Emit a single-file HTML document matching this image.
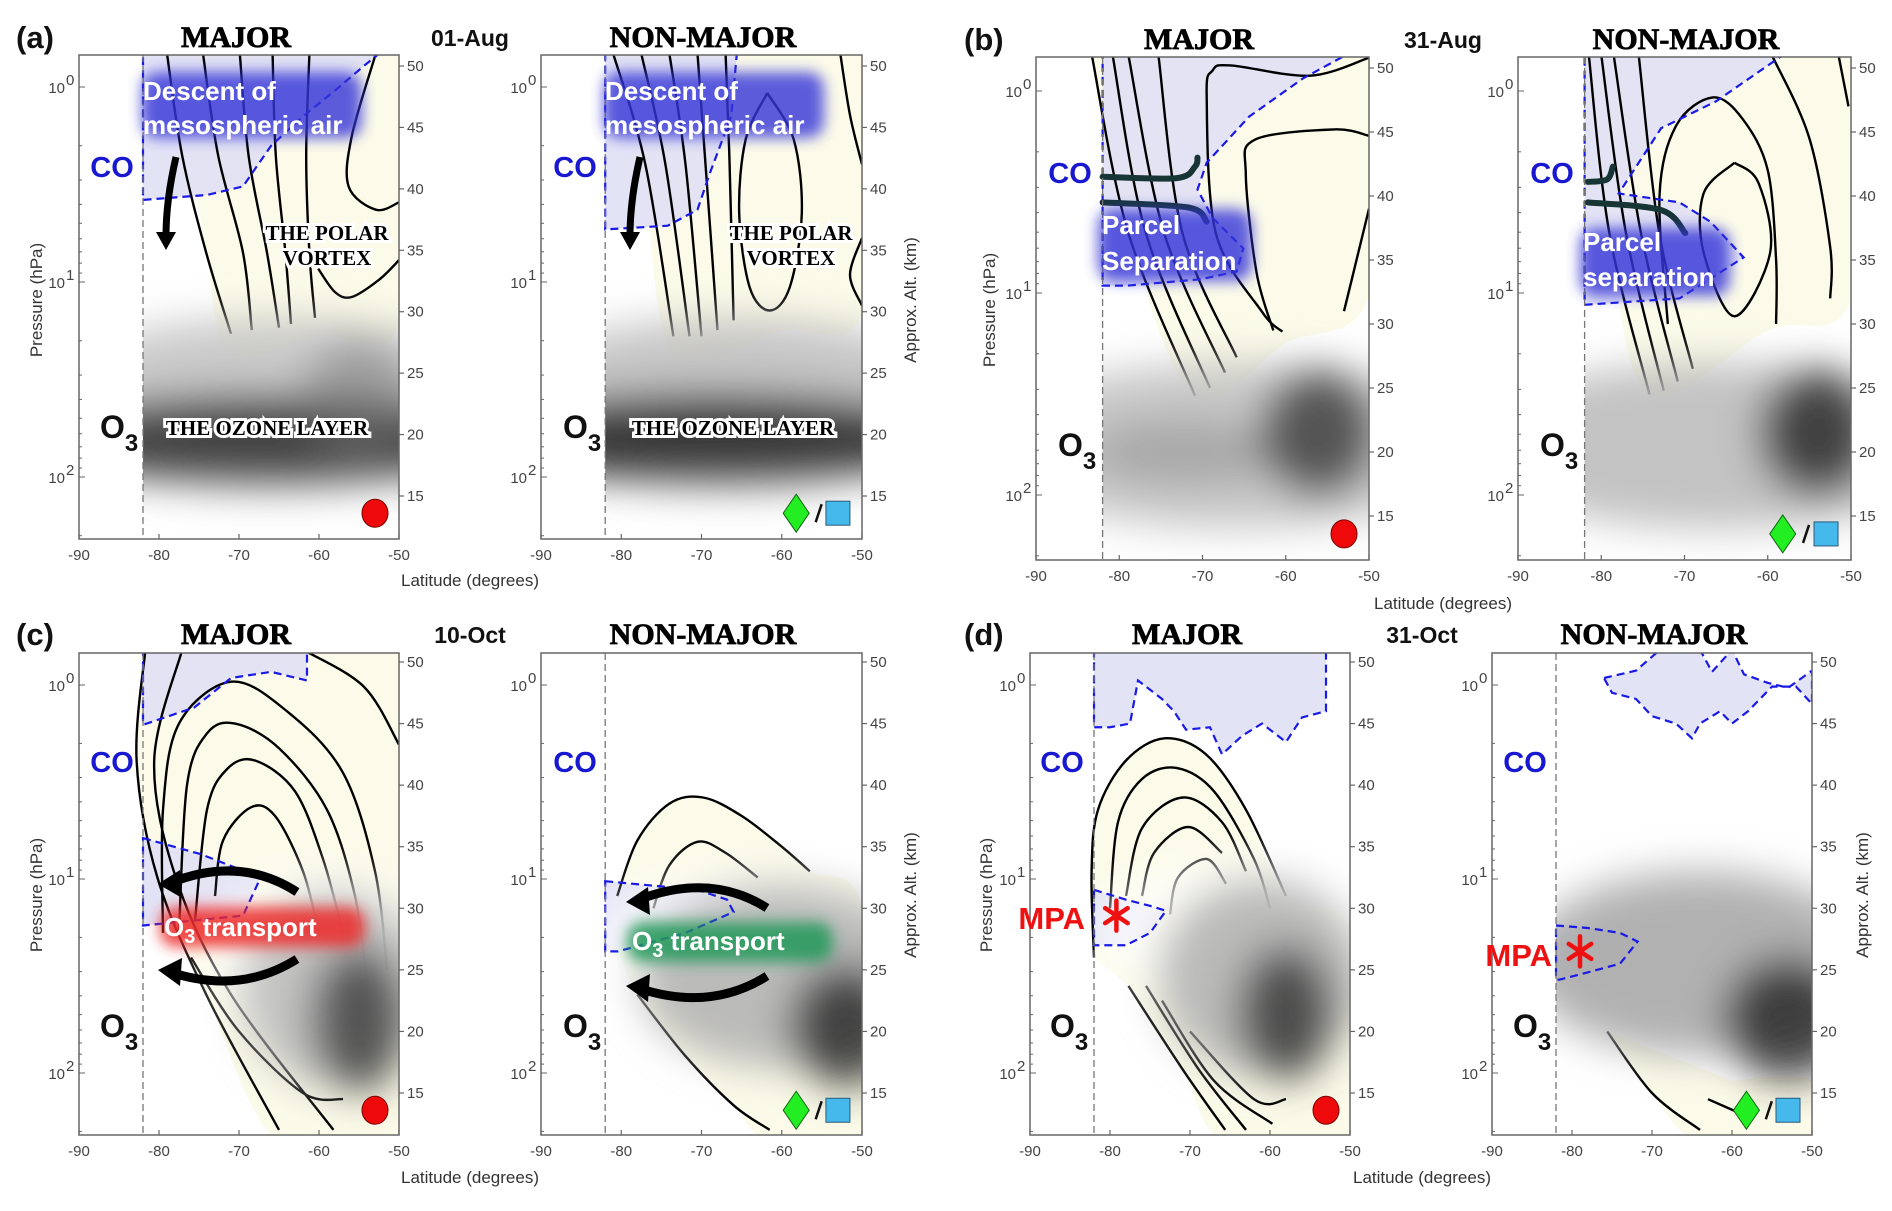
<!DOCTYPE html>
<html><head><meta charset="utf-8"><style>
html,body{margin:0;padding:0;background:#fff;}
svg{display:block;}
text{font-family:"Liberation Sans",sans-serif;}
.tick{font-size:15px;fill:#444;}
.axl{font-size:17px;fill:#333;}
.ttl{font-family:"Liberation Serif",serif;font-weight:bold;font-size:30px;fill:#000;stroke:#000;stroke-width:0.8px;}
.date{font-size:23px;font-weight:bold;fill:#111;}
.let{font-size:31px;font-weight:bold;fill:#111;}
.co{font-size:29px;font-weight:bold;fill:#1818d0;}
.o3{font-size:32px;font-weight:bold;fill:#111;}
.wt{font-size:26px;font-weight:bold;fill:#fff;}
.serifb{font-family:"Liberation Serif",serif;font-weight:bold;font-size:21px;fill:#000;stroke:#fff;stroke-width:6px;paint-order:stroke;}
.mpa{font-size:31px;font-weight:bold;fill:#ee1111;}
</style></head><body>
<svg id="fig" width="1892" height="1211" viewBox="0 0 1892 1211" xmlns="http://www.w3.org/2000/svg">
<defs>
<filter id="blurO" x="-50%" y="-50%" width="200%" height="200%"><feGaussianBlur stdDeviation="20"/></filter>
<filter id="glow" x="-30%" y="-50%" width="160%" height="200%"><feGaussianBlur stdDeviation="7"/></filter>
</defs>
<g id="plots"></g>
<g id="labels">
<text class="let" x="16" y="48">(a)</text>
<text class="let" x="964" y="50">(b)</text>
<text class="let" x="16" y="645">(c)</text>
<text class="let" x="964" y="645">(d)</text>
<text class="ttl" x="236" y="47" text-anchor="middle">MAJOR</text>
<text class="ttl" x="703" y="47" text-anchor="middle">NON-MAJOR</text>
<text class="ttl" x="1199" y="49" text-anchor="middle">MAJOR</text>
<text class="ttl" x="1686" y="49" text-anchor="middle">NON-MAJOR</text>
<text class="ttl" x="236" y="644" text-anchor="middle">MAJOR</text>
<text class="ttl" x="703" y="644" text-anchor="middle">NON-MAJOR</text>
<text class="ttl" x="1187" y="644" text-anchor="middle">MAJOR</text>
<text class="ttl" x="1654" y="644" text-anchor="middle">NON-MAJOR</text>
<text class="date" x="470" y="46" text-anchor="middle">01-Aug</text>
<text class="date" x="1443" y="48" text-anchor="middle">31-Aug</text>
<text class="date" x="470" y="643" text-anchor="middle">10-Oct</text>
<text class="date" x="1422" y="643" text-anchor="middle">31-Oct</text>
<text class="axl" x="470" y="586" text-anchor="middle">Latitude (degrees)</text>
<text class="axl" x="1443" y="609" text-anchor="middle">Latitude (degrees)</text>
<text class="axl" x="470" y="1183" text-anchor="middle">Latitude (degrees)</text>
<text class="axl" x="1422" y="1183" text-anchor="middle">Latitude (degrees)</text>
<text class="axl" transform="translate(42,300) rotate(-90)" text-anchor="middle">Pressure (hPa)</text>
<text class="axl" transform="translate(995,310) rotate(-90)" text-anchor="middle">Pressure (hPa)</text>
<text class="axl" transform="translate(42,895) rotate(-90)" text-anchor="middle">Pressure (hPa)</text>
<text class="axl" transform="translate(992,895) rotate(-90)" text-anchor="middle">Pressure (hPa)</text>
<text class="axl" transform="translate(916,300) rotate(-90)" text-anchor="middle">Approx. Alt. (km)</text>
<text class="axl" transform="translate(916,895) rotate(-90)" text-anchor="middle">Approx. Alt. (km)</text>
<text class="axl" transform="translate(1868,895) rotate(-90)" text-anchor="middle">Approx. Alt. (km)</text>

<text class="co" x="112" y="177" text-anchor="middle">CO</text>
<text class="co" x="575" y="177" text-anchor="middle">CO</text>
<text class="co" x="1070" y="183" text-anchor="middle">CO</text>
<text class="co" x="1552" y="183" text-anchor="middle">CO</text>
<text class="co" x="112" y="772" text-anchor="middle">CO</text>
<text class="co" x="575" y="772" text-anchor="middle">CO</text>
<text class="co" x="1062" y="772" text-anchor="middle">CO</text>
<text class="co" x="1525" y="772" text-anchor="middle">CO</text>
<text class="o3" x="100" y="438">O<tspan font-size="24" dy="13">3</tspan></text>
<text class="o3" x="563" y="438">O<tspan font-size="24" dy="13">3</tspan></text>
<text class="o3" x="1058" y="456">O<tspan font-size="24" dy="13">3</tspan></text>
<text class="o3" x="1540" y="456">O<tspan font-size="24" dy="13">3</tspan></text>
<text class="o3" x="100" y="1037">O<tspan font-size="24" dy="13">3</tspan></text>
<text class="o3" x="563" y="1037">O<tspan font-size="24" dy="13">3</tspan></text>
<text class="o3" x="1050" y="1037">O<tspan font-size="24" dy="13">3</tspan></text>
<text class="o3" x="1513" y="1037">O<tspan font-size="24" dy="13">3</tspan></text>

<rect x="142" y="72" width="220" height="66" rx="16" fill="#3535d8" opacity="0.8" filter="url(#glow)"/>
<text class="wt" x="143" y="100">Descent of</text>
<text class="wt" x="143" y="134">mesospheric air</text>
<rect x="604" y="72" width="220" height="66" rx="16" fill="#3535d8" opacity="0.8" filter="url(#glow)"/>
<text class="wt" x="605" y="100">Descent of</text>
<text class="wt" x="605" y="134">mesospheric air</text>
<text class="serifb" x="327" y="240" text-anchor="middle">THE POLAR</text>
<text class="serifb" x="327" y="265" text-anchor="middle">VORTEX</text>
<text class="serifb" x="791" y="240" text-anchor="middle">THE POLAR</text>
<text class="serifb" x="791" y="265" text-anchor="middle">VORTEX</text>
<text class="serifb" x="267" y="435" text-anchor="middle">THE OZONE LAYER</text>
<text class="serifb" x="733" y="435" text-anchor="middle">THE OZONE LAYER</text>
<path d="M176,157 Q166,200 166,236" stroke="#000" stroke-width="7" fill="none"/>
<polygon points="156,232 176,232 166,250" fill="#000"/>
<path d="M640,157 Q630,200 630,236" stroke="#000" stroke-width="7" fill="none"/>
<polygon points="620,232 640,232 630,250" fill="#000"/>

<rect x="1098" y="209" width="154" height="72" rx="16" fill="#3535d8" opacity="0.8" filter="url(#glow)"/>
<text class="wt" x="1102" y="234">Parcel</text>
<text class="wt" x="1102" y="270">Separation</text>
<rect x="1580" y="228" width="150" height="68" rx="16" fill="#3535d8" opacity="0.8" filter="url(#glow)"/>
<text class="wt" x="1583" y="251">Parcel</text>
<text class="wt" x="1583" y="286">separation</text>

<path d="M297,892 Q240,855 170,883" stroke="#000" stroke-width="9" fill="none"/>
<polygon points="158,884 180,870 182,898" fill="#000"/>
<path d="M297,959 Q240,995 170,972" stroke="#000" stroke-width="9" fill="none"/>
<polygon points="158,970 182,958 180,986" fill="#000"/>
<path d="M767,908 Q710,872 638,900" stroke="#000" stroke-width="9" fill="none"/>
<polygon points="626,902 648,887 650,915" fill="#000"/>
<path d="M767,976 Q710,1012 638,988" stroke="#000" stroke-width="9" fill="none"/>
<polygon points="626,986 650,974 648,1002" fill="#000"/>
<rect x="160" y="907" width="205" height="40" rx="16" fill="#ee2a2a" opacity="0.85" filter="url(#glow)"/>
<text class="wt" x="164" y="936" font-size="28">O<tspan font-size="20" dy="7">3</tspan><tspan dy="-7"> transport</tspan></text>
<rect x="627" y="922" width="206" height="40" rx="16" fill="#22995a" opacity="0.85" filter="url(#glow)"/>
<text class="wt" x="632" y="950" font-size="28">O<tspan font-size="20" dy="7">3</tspan><tspan dy="-7"> transport</tspan></text>

<text class="mpa" x="1085" y="929" text-anchor="end">MPA</text>
<text class="mpa" x="1552" y="966" text-anchor="end">MPA</text>
</g>
</svg>
<script>
// ---------- shared axis data ----------
const latTicks = [-90, -80, -70, -60, -50];
const altTicks = [15, 20, 25, 30, 35, 40, 45, 50];
const pressureTicks = [1, 10, 100];
const pressureTickLabels = ['0', '1', '2'];
const vortexEdgeLat = -82;

// ---------- panel (a) MAJOR ----------
const a1Cream = [[-79,51],[-50,51],[-50,29],[-60,28],[-71,26.5],[-74.1,34.8],[-75.6,41.2]];
const a1CO = [[-82,51],[-52.5,51],[-54.4,50],[-58,48],[-62,45.9],[-66,43.5],[-69.5,40.2],[-74,39.5],[-82,39.1]];
const a1Contours = [
  [[-79,51],[-77.1,42.7],[-74.1,34.8],[-71,28.2]],
  [[-74.5,51],[-72.6,42.7],[-69.5,34.8],[-68.4,28.5]],
  [[-69.9,51],[-68.8,42.7],[-66.5,34.8],[-65,28.7]],
  [[-65.8,51],[-65.4,42.7],[-64.2,34.8],[-63.5,29]],
  [[-61.2,51],[-61.6,42.7],[-61.2,34.8],[-60.5,29.5]],
  [[-52.9,51],[-55.9,44.3],[-56.3,40.2],[-52.9,38.3],[-50,38.9]],
  [[-60.1,33.5],[-58,31.6],[-55.9,31.2],[-52.5,32.6],[-50,34.2]]
];
const a1Ozone = [[-66,22.5,30,7,'#c4c4c4',0.9],[-66,19.6,30,3.6,'#3c3c3c',0.95],[-55,23,7,5,'#777777',0.5]];

// ---------- panel (a) NON-MAJOR ----------
const a2Cream = [[-81,51],[-50,51],[-50,30],[-60,28.5],[-73.5,26.5],[-77,42]];
const a2CO = [[-82,51],[-65.6,51],[-66.3,45.9],[-69,41.2],[-70.5,38.3],[-74.2,37],[-82,36.7]];
const a2Contours = [
  [[-81,51],[-77,42],[-73.5,28]],
  [[-77.5,51],[-74.5,42],[-71.5,28]],
  [[-74,51],[-72,42],[-70,28]],
  [[-70.5,51],[-69.5,42],[-68,28.5]],
  [[-67,51],[-66.5,42],[-66,29.3]],
  [[-61.8,47.8],[-58.5,44],[-57.5,38],[-59,32],[-61.5,30.1],[-64,32],[-65.3,38],[-64.5,44],[-61.8,47.8]],
  [[-52.7,51],[-51.5,46],[-50,42]],
  [[-50,36],[-51.5,33],[-50,30.5]]
];
const a2Ozone = [[-66,22.5,30,7,'#c0c0c0',0.9],[-68,19.7,30,3.6,'#333333',0.95]];

// ---------- panel (b) MAJOR ----------
const b1Cream = [[-83.3,51],[-78.9,37.1],[-70.9,24.4],[-60,28.5],[-50,32.3],[-50,51]];
const b1CO = [[-82,51],[-52.8,51],[-57.9,49.2],[-64.4,46.2],[-69.5,42.6],[-70.6,40.5],[-68.8,38.3],[-65.1,35.9],[-65.9,34.1],[-70.2,33.5],[-79,33],[-82,33]];
const b1Contours = [
  [[-83.3,51],[-78.9,37.1],[-70.9,24.4]],
  [[-80.8,51],[-76.8,37.1],[-69.1,25]],
  [[-78.9,51],[-74.6,37.1],[-67.3,26.2]],
  [[-75.3,51],[-72.4,37.1],[-65.9,27.4]],
  [[-50,50.8],[-57.1,49.4],[-66.6,50.2],[-68.8,49.8],[-69.5,47.7],[-68.4,37.1],[-62.9,31],[-60.4,29.4]],
  [[-50,44.7],[-54.2,45.2],[-63.7,44.4],[-64.8,41.7],[-63.5,34],[-61.5,29.5]],
  [[-50,39],[-51.5,35],[-53,31]]
];
const b1Parcel = [
  [[-82,41.5],[-73.1,41.4],[-70.9,42.3],[-70.6,43]],
  [[-82,39.5],[-71.7,39.1],[-69.5,38]]
];
const b1Ozone = [[-66,20.5,30,6.5,'#c2c2c2',0.9],[-72,20,12,2.5,'#888888',0.5],[-56,21.5,7,5,'#3a3a3a',0.8]];

// ---------- panel (b) NON-MAJOR ----------
const b2Cream = [[-81.5,51],[-79,37],[-74.2,24.5],[-60,29.5],[-50,32],[-50,51]];
const b2CO = [[-82,51],[-58.2,51],[-66.2,47.4],[-72.8,45.3],[-77.9,40.2],[-70.6,39.5],[-66.9,38],[-62.9,35.2],[-70.6,32],[-82,31.5]];
const b2Contours = [
  [[-81.5,51],[-79,37],[-74.2,24.5]],
  [[-80,51],[-77,37],[-72.5,24.8]],
  [[-78.5,51],[-75.2,37],[-70.8,25.5]],
  [[-75.5,51],[-73,37],[-69,26.5]],
  [[-59.5,51],[-55,44.5],[-52.5,36],[-52.5,32]],
  [[-51.5,51],[-50.3,47]],
  [[-72,30],[-73,40],[-71,45.5],[-66.6,47.7],[-63,46],[-60,42],[-59,35],[-59,30]],
  [[-64,42.6],[-61.1,41],[-59.7,35.6],[-64,30.6],[-67.7,35.6],[-67.7,40.2],[-64,42.6]]
];
const b2Parcel = [
  [[-81.6,41.1],[-79.3,41.3],[-78.6,42.3]],
  [[-81.6,39.5],[-72.8,38.9],[-69.9,37.1]]
];
const b2Ozone = [[-66,20.5,30,6.5,'#bdbdbd',0.9],[-54,21.5,7,5,'#2e2e2e',0.85]];

// ---------- panel (c) MAJOR ----------
const c1Cream = [[-81.7,51],[-82.8,42],[-80.2,32.5],[-74.1,23],[-65,11],[-50,11],[-50,51]];
const c1CO = [[-82,51],[-61.5,51],[-61.5,48.5],[-66,49.2],[-71,48.7],[-75.6,46.3],[-82,44.9]];
const c1CO2 = [[-82,35.7],[-74.8,34.4],[-67.3,32.5],[-69.5,29.4],[-82,28.6]];
const c1Contours = [
  [[-81.7,51],[-82.8,42],[-80.2,32.5],[-74.1,23],[-65,12]],
  [[-77.1,51],[-80.6,42],[-77.9,32.5],[-71,23],[-58.2,12]],
  [[-62,51],[-54.4,48],[-50,43.3]],
  [[-79.5,28],[-79.5,38],[-77.5,45],[-71,48.4],[-64,46],[-57,41],[-53,33],[-51.5,25]],
  [[-77.5,28],[-76.5,40],[-74,44.2],[-70.5,45],[-65,43],[-59,38],[-55.5,31],[-54,24]],
  [[-75.5,29],[-74,38],[-71.5,41.3],[-68,42],[-63,39.5],[-59.5,34],[-57,28]],
  [[-73,31],[-72,35.5],[-68.5,38.2],[-65.5,37.5],[-62,33],[-60,28]],
  [[-76,26],[-70,20],[-62,15],[-57,14.5]]
];
const c1Ozone = [[-60,26,14,7,'#ffffff',0.7],[-58,23.5,12,8,'#bcbcbc',0.9],[-55,21,6,6,'#3a3a3a',0.8]];

// ---------- panel (c) NON-MAJOR ----------
const c2Cream = [[-80.5,31],[-78,35.5],[-74,38.5],[-69.8,39],[-65,37.5],[-60,35],[-56.5,33],[-50,30],[-50,11],[-61.5,11],[-66,14],[-72,18],[-78,23],[-80.5,27]];
const c2CO = [[-82,32.2],[-70.5,31.5],[-66.8,30.7],[-66,29.7],[-72,28],[-80.4,26.5],[-82,26.5]];
const c2Contours = [
  [[-80.5,31],[-78,35.5],[-74,38.5],[-69.8,39],[-65,37.5],[-60,35],[-56.5,33]],
  [[-76,30],[-74,33.5],[-70.5,35.4],[-67,34.5],[-63,32.5]],
  [[-78,23],[-72,18],[-66,14],[-61.5,12]]
];
const c2Ozone = [[-64,27,20,6,'#ffffff',0.7],[-60,24.5,18,7.5,'#b4b4b4',0.9],[-52,20.5,7,5,'#2e2e2e',0.85]];

// ---------- panel (d) MAJOR ----------
const d1Cream = [[-82,26],[-82.3,33],[-81.5,38],[-78,42],[-73.2,43.8],[-68,42.5],[-63,38],[-58,31],[-50,28],[-50,11],[-65.6,11],[-71,17],[-77.7,23.7]];
const d1CO = [[-82,51],[-53,51],[-53,46],[-56,45.5],[-58,43.5],[-61,45],[-63.5,44],[-66,42.5],[-67.5,44.7],[-70.5,44.5],[-72,46],[-73.5,47],[-76.5,48.5],[-77.5,45],[-80,44.7],[-82,44.7]];
const d1CO2 = [[-82,31.5],[-78,30.7],[-75,30.2],[-73,29.8],[-75,28],[-78,27],[-82,27]];
const d1Contours = [
  [[-82,26],[-82.3,33],[-81.5,38],[-78,42],[-73.2,43.8],[-68,42.5],[-63,38],[-58,31]],
  [[-80,30],[-79,37],[-76,40.5],[-71.7,41.4],[-67,39.5],[-62,34],[-60,30]],
  [[-78,31],[-76,36.5],[-70.9,39],[-66,37],[-63,33]],
  [[-76,31],[-74.5,34.5],[-70.2,36.6],[-66,34.5]],
  [[-72.5,29.5],[-71.5,32.5],[-67.9,34],[-65.5,32]],
  [[-77.7,23.7],[-71,17],[-65.6,12]],
  [[-75.5,23.7],[-69,17],[-63,12]],
  [[-73.5,22.5],[-67,16],[-59.7,12.5]],
  [[-70,20],[-62,14.5],[-58,14.5]]
];
const d1Ozone = [[-64,28,18,6,'#ffffff',0.7],[-61,24.5,13,8,'#b4b4b4',0.9],[-58,21.5,6,5.5,'#333333',0.8]];
const d1Star = [-79.2, 29.4];

// ---------- panel (d) NON-MAJOR ----------
const d2Cream = [[-75.6,20],[-70,15],[-64,11],[-50,11],[-50,16],[-60,16]];
const d2CO = [[-76,48.7],[-72,49.3],[-69,51],[-64,51],[-62.5,49.2],[-60,51],[-58.5,49],[-55.5,48.3],[-53,47.9],[-50,49.3],[-50,46.6],[-52,48],[-55,48],[-58,46],[-60,45],[-61.5,46],[-64,45],[-65,43.8],[-67,45],[-70,45.6],[-72,47],[-75,47.5]];
const d2CO2 = [[-82,28.6],[-78,28.4],[-74,28],[-71.8,27.3],[-74,25.5],[-78,24.8],[-81.6,24.2],[-82,24.2]];
const d2Contours = [
  [[-75.6,20],[-70,15],[-64,12]],
  [[-63,14.5],[-59.5,13.5]]
];
const d2Ozone = [[-64,25.5,22,7.5,'#a8a8a8',0.9],[-53,21,8,5,'#2a2a2a',0.85]];
const d2Star = [-79, 26.5];

// ---------- layout (pixel frames) ----------
const frames = {
  a1:{x0:79,x1:399,y0:55,y1:539,y50:66,y15:496,p:[87,282,475],major:true},
  a2:{x0:541,x1:862,y0:55,y1:539,y50:66,y15:496,p:[87,282,475],major:false},
  b1:{x0:1036,x1:1369,y0:57,y1:560,y50:68,y15:516,p:[91,293,494],major:true},
  b2:{x0:1518,x1:1851,y0:57,y1:560,y50:68,y15:516,p:[91,293,494],major:false},
  c1:{x0:79,x1:399,y0:653,y1:1135,y50:662,y15:1093,p:[685,879,1072],major:true},
  c2:{x0:541,x1:862,y0:653,y1:1135,y50:662,y15:1093,p:[685,879,1072],major:false},
  d1:{x0:1030,x1:1350,y0:653,y1:1135,y50:662,y15:1093,p:[685,879,1072],major:true},
  d2:{x0:1492,x1:1812,y0:653,y1:1135,y50:662,y15:1093,p:[685,879,1072],major:false}
};
const panelData = {
  a1:{cream:a1Cream,co:[a1CO],contours:a1Contours,ozone:a1Ozone,parcel:[],star:null},
  a2:{cream:a2Cream,co:[a2CO],contours:a2Contours,ozone:a2Ozone,parcel:[],star:null},
  b1:{cream:b1Cream,co:[b1CO],contours:b1Contours,ozone:b1Ozone,parcel:b1Parcel,star:null},
  b2:{cream:b2Cream,co:[b2CO],contours:b2Contours,ozone:b2Ozone,parcel:b2Parcel,star:null},
  c1:{cream:c1Cream,co:[c1CO,c1CO2],contours:c1Contours,ozone:c1Ozone,parcel:[],star:null},
  c2:{cream:c2Cream,co:[c2CO],contours:c2Contours,ozone:c2Ozone,parcel:[],star:null},
  d1:{cream:d1Cream,co:[d1CO,d1CO2],contours:d1Contours,ozone:d1Ozone,parcel:[],star:d1Star},
  d2:{cream:d2Cream,co:[d2CO,d2CO2],contours:d2Contours,ozone:d2Ozone,parcel:[],star:d2Star}
};

const NS = 'http://www.w3.org/2000/svg';
const root = document.getElementById('plots');
function el(tag, attrs, parent){
  const e = document.createElementNS(NS, tag);
  for (const k in attrs) e.setAttribute(k, attrs[k]);
  parent.appendChild(e);
  return e;
}
function smooth(pts){
  if (pts.length < 3) return 'M' + pts.map(p => p[0].toFixed(1)+','+p[1].toFixed(1)).join(' L');
  let d = 'M' + pts[0][0].toFixed(1) + ',' + pts[0][1].toFixed(1);
  for (let i = 0; i < pts.length - 1; i++){
    const p0 = pts[Math.max(0,i-1)], p1 = pts[i], p2 = pts[i+1], p3 = pts[Math.min(pts.length-1,i+2)];
    const c1x = p1[0] + (p2[0]-p0[0])/6, c1y = p1[1] + (p2[1]-p0[1])/6;
    const c2x = p2[0] - (p3[0]-p1[0])/6, c2y = p2[1] - (p3[1]-p1[1])/6;
    d += ' C' + c1x.toFixed(1)+','+c1y.toFixed(1)+' '+c2x.toFixed(1)+','+c2y.toFixed(1)+' '+p2[0].toFixed(1)+','+p2[1].toFixed(1);
  }
  return d;
}

Object.keys(frames).forEach(id => {
  const f = frames[id], D = panelData[id];
  const xS = lat => f.x0 + (lat + 90) / 40 * (f.x1 - f.x0);
  const yS = km => f.y50 + (50 - km) * (f.y15 - f.y50) / 35;
  const pY = p => f.p[0] + Math.log10(p) * (f.p[1] - f.p[0]);
  const map = pts => pts.map(q => [xS(q[0]), yS(q[1])]);

  const g = el('g', {}, root);
  
  

  const clip = el('clipPath', {id:'clip-'+id}, g);
  el('rect', {x:f.x0, y:f.y0, width:f.x1-f.x0, height:f.y1-f.y0}, clip);
  const clipO = el('clipPath', {id:'clipo-'+id}, g);
  el('rect', {x:xS(vortexEdgeLat), y:f.y0, width:f.x1-xS(vortexEdgeLat), height:f.y1-f.y0}, clipO);

  const inner = el('g', {'clip-path':'url(#clip-'+id+')'}, g);
  
  

  const cream = el('path', {d: smooth(map(D.cream)) + ' Z', fill:'#fcfbe9'}, inner);
  
  

  D.co.forEach((poly, i) => {
    const co = el('polygon', {points: map(poly).map(p=>p.join(',')).join(' '), fill:'#dedef4', opacity:'0.85'}, inner);
    
    
  });

  D.contours.forEach((line, i) => {
    const c = el('path', {d: smooth(map(line)), fill:'none', stroke:'#000', 'stroke-width':'2.4'}, inner);
    
    
  });

  const oz = el('g', {'clip-path':'url(#clipo-'+id+')'}, inner);
  
  
  const ozb = el('g', {filter:'url(#blurO)'}, oz);
  D.ozone.forEach((e, i) => {
    const rx = e[2] / 40 * (f.x1 - f.x0), ry = e[3] * (f.y15 - f.y50) / 35;
    const ell = el('ellipse', {cx:xS(e[0]), cy:yS(e[1]), rx:rx, ry:ry, fill:e[4], opacity:e[5]}, ozb);
    
    
  });

  D.co.forEach((poly, i) => {
    const o = el('polygon', {points: map(poly).map(p=>p.join(',')).join(' '), fill:'none', stroke:'#1a1ae6', 'stroke-width':'2.2', 'stroke-dasharray':'8 5'}, inner);
    
    
  });

  D.parcel.forEach((line, i) => {
    const p = el('path', {d: smooth(map(line)), fill:'none', stroke:'#173535', 'stroke-width':'6', 'stroke-linecap':'round'}, inner);
    
    
  });

  const dash = el('line', {x1:xS(vortexEdgeLat), x2:xS(vortexEdgeLat), y1:f.y0, y2:f.y1, stroke:'#777', 'stroke-width':'1.3', 'stroke-dasharray':'7 4'}, g);
  
  

  const frame = el('rect', {x:f.x0, y:f.y0, width:f.x1-f.x0, height:f.y1-f.y0, fill:'none', stroke:'#666', 'stroke-width':'1.5'}, g);
  
  

  latTicks.forEach(t => {
    const tl = el('line', {x1:xS(t), x2:xS(t), y1:f.y1, y2:f.y1-5, stroke:'#666', 'stroke-width':'1.2'}, g);
    
    
    const tx = el('text', {x:xS(t), y:f.y1+21, class:'tick', 'text-anchor':'middle'}, g);
    tx.textContent = String(t);
    
    
  });
  altTicks.forEach(t => {
    const tl = el('line', {x1:f.x1, x2:f.x1+5, y1:yS(t), y2:yS(t), stroke:'#666', 'stroke-width':'1.2'}, g);
    
    
    const tx = el('text', {x:f.x1+8, y:yS(t)+5, class:'tick'}, g);
    tx.textContent = String(t);
    
    
  });
  for (let dec = 0; dec < 3; dec++){
    for (let m = 1; m < 10; m++){
      const p = m * Math.pow(10, dec);
      const y = pY(p);
      if (y < f.y0 || y > f.y1) continue;
      const tl = el('line', {x1:f.x0, x2:f.x0+(m===1?6:3), y1:y, y2:y, stroke:'#666', 'stroke-width':'1'}, g);
      
      
    }
  }
  pressureTicks.forEach((p, i) => {
    const tx = el('text', {x:f.x0-14, y:pY(p)+6, class:'tick', 'text-anchor':'end'}, g);
    tx.textContent = '10';
    
    
    const sup = el('text', {x:f.x0-13, y:pY(p)-2, class:'tick', 'font-size':'11'}, g);
    sup.textContent = pressureTickLabels[i];
    
    
  });

  if (f.major){
    const c = el('ellipse', {cx:xS(-53), cy:yS(13.6), rx:13, ry:14, fill:'#ee0a0a', stroke:'#7a0000', 'stroke-width':'1'}, g);
    
    
  } else {
    const cx = xS(-58.2), cy = yS(13.6);
    const dm = el('polygon', {points:`${cx},${cy-19} ${cx+13},${cy} ${cx},${cy+19} ${cx-13},${cy}`, fill:'#22ee22', stroke:'#116611', 'stroke-width':'1'}, g);
    
    
    const sl = el('line', {x1:xS(-55.4)+3, y1:cy-9, x2:xS(-55.4)-3, y2:cy+9, stroke:'#111', 'stroke-width':'2.5'}, g);
    
    
    const sq = el('rect', {x:xS(-53)-12, y:cy-12, width:24, height:24, fill:'#45b8ec', stroke:'#2a5a7a', 'stroke-width':'1'}, g);
    
    
  }
  if (D.star){
    const sx = xS(D.star[0]), sy = yS(D.star[1]);
    const st = el('g', {stroke:'#ee1111', 'stroke-width':'4.5', 'stroke-linecap':'round'}, g);
    
    
    [0, 60, 120].forEach(a => {
      const r = a * Math.PI / 180;
      el('line', {x1:sx-13*Math.sin(r), y1:sy-15*Math.cos(r), x2:sx+13*Math.sin(r), y2:sy+15*Math.cos(r)}, st);
    });
  }
});
</script>
</body></html>
